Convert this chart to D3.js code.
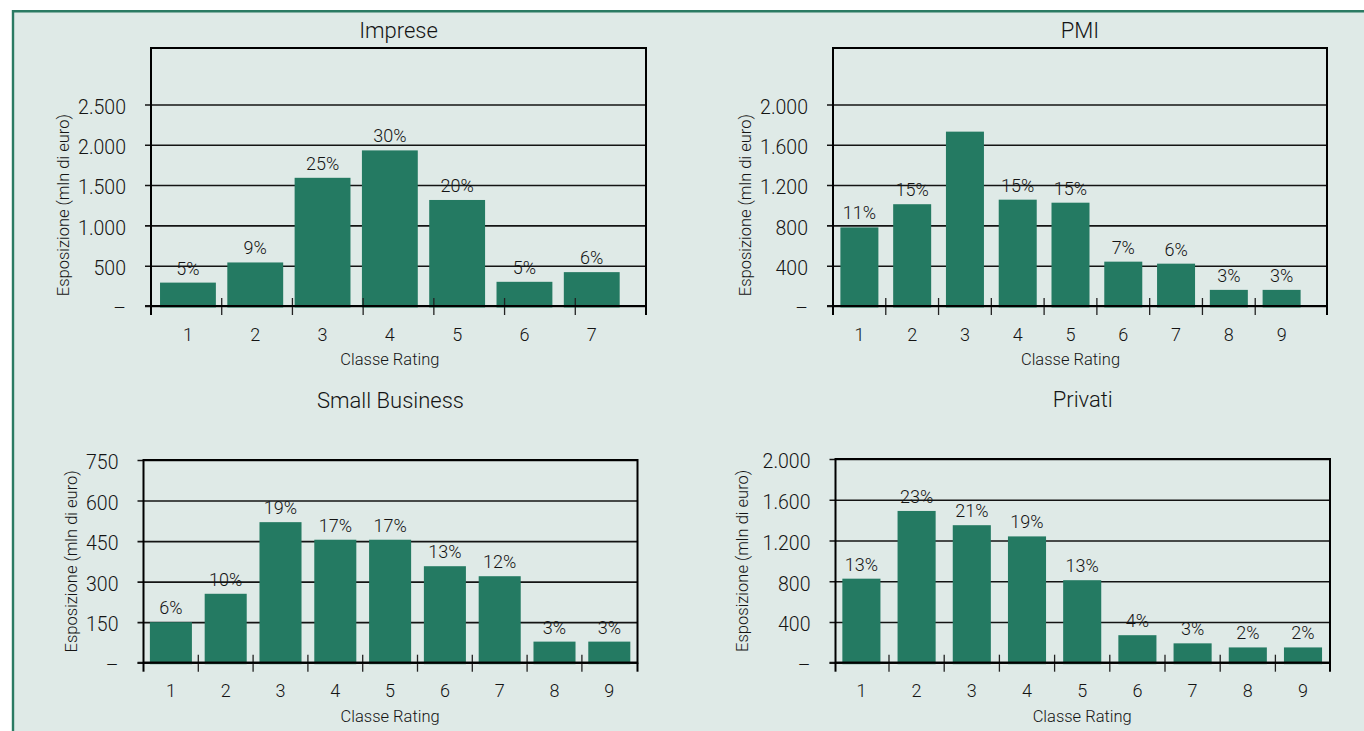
<!DOCTYPE html>
<html>
<head>
<meta charset="utf-8">
<script src="https://cdn.jsdelivr.net/npm/d3@7/dist/d3.min.js"></script>
<style>
    body { margin: 0; background: #fff; }
    svg text { font-family: Roboto, "DejaVu Sans Condensed", sans-serif; font-weight: 300; fill: #141414; }
</style>
</head>
<body>
<div id="chart"></div>
<script>
'use strict';

// classi di rating
var classi7 = ["1", "2", "3", "4", "5", "6", "7"];
var classi9 = ["1", "2", "3", "4", "5", "6", "7", "8", "9"];

// esposizione (mln di euro) e quota percentuale per classe
var impreseValori = [290, 540, 1590, 1930, 1315, 300, 420];
var impresePerc = ["5%", "9%", "25%", "30%", "20%", "5%", "6%"];
var impreseTicks = [0, 500, 1000, 1500, 2000, 2500];

var pmiValori = [780, 1010, 1730, 1055, 1025, 440, 420, 160, 160];
var pmiPerc = ["11%", "15%", "", "15%", "15%", "7%", "6%", "3%", "3%"];
var pmiTicks = [0, 400, 800, 1200, 1600, 2000];

var smallValori = [150, 255, 520, 455, 455, 357, 320, 78, 78];
var smallPerc = ["6%", "10%", "19%", "17%", "17%", "13%", "12%", "3%", "3%"];
var smallTicks = [0, 150, 300, 450, 600, 750];

var privatiValori = [825, 1490, 1350, 1240, 810, 270, 190, 150, 150];
var privatiPerc = ["13%", "23%", "21%", "19%", "13%", "4%", "3%", "2%", "2%"];
var privatiTicks = [0, 400, 800, 1200, 1600, 2000];

var width = 1364,
    height = 731,
    barColor = "#247a62",
    bgColor = "#dfeae7",
    borderColor = "#2b7b63";

var it = d3.formatLocale({decimal: ",", thousands: ".", grouping: [3], currency: ["€", ""]});
var fmt = function(d) { return d === 0 ? "\u2013" : it.format(",")(d); };

var panels = [
    {titolo: "Imprese", classi: classi7, valori: impreseValori, perc: impresePerc, ticks: impreseTicks, yMax: 3200,
        left: 151, right: 646, top: 48, bottom: 306, bars: [154.3, 625.4], pad: 0.17, tickRange: [151, 646],
        titleY: 38, yTitleX: 63},
    {titolo: "PMI", classi: classi9, valori: pmiValori, perc: pmiPerc, ticks: pmiTicks, yMax: 2560,
        left: 833, right: 1327, top: 48, bottom: 306, bars: [833, 1308], pad: 0.28, tickRange: [833, 1308],
        titleY: 38, yTitleX: 745},
    {titolo: "Small Business", classi: classi9, valori: smallValori, perc: smallPerc, ticks: smallTicks, yMax: 750,
        left: 143.5, right: 637.5, top: 460, bottom: 662.7, bars: [143.5, 636.7], pad: 0.233, tickRange: [143.5, 636.7],
        titleY: 408, yTitleX: 71.5},
    {titolo: "Privati", classi: classi9, valori: privatiValori, perc: privatiPerc, ticks: privatiTicks, yMax: 2000,
        left: 835.5, right: 1330, top: 459, bottom: 662.7, bars: [833.8, 1330.6], pad: 0.31, tickRange: [833.8, 1330.6],
        titleY: 407, yTitleX: 742}
];

var svg = d3.select("#chart").append("svg")
    .attr("width", width)
    .attr("height", height);

// sfondo e bordo verde
svg.append("rect")
    .attr("x", 12).attr("y", 10)
    .attr("width", width - 12).attr("height", height - 10)
    .attr("fill", bgColor);
svg.append("line")
    .attr("x1", 12).attr("x2", width).attr("y1", 11.3).attr("y2", 11.3)
    .attr("stroke", borderColor).attr("stroke-width", 2.6);
svg.append("line")
    .attr("x1", 13).attr("x2", 13).attr("y1", 10).attr("y2", height)
    .attr("stroke", borderColor).attr("stroke-width", 2.4);

panels.forEach(function(p) {
    var g = svg.append("g");

    var x = d3.scaleBand()
        .domain(p.classi)
        .range(p.bars)
        .paddingInner(p.pad)
        .paddingOuter(p.pad / 2);

    var y = d3.scaleLinear()
        .domain([0, p.yMax])
        .range([p.bottom, p.top]);

    //griglia + etichette asse y
    var yAxis = d3.axisLeft(y)
        .tickValues(p.ticks)
        .tickSize(-(p.right - p.left + 6))
        .tickPadding(19)
        .tickFormat(fmt);

    var ya = g.append("g")
        .attr("transform", "translate(" + (p.left - 6) + ",0)")
        .call(yAxis);
    ya.select(".domain").remove();
    ya.selectAll(".tick line").attr("stroke", "#141414").attr("stroke-width", 1.6);
    ya.selectAll(".tick text")
        .attr("dy", "0.45em")
        .style("font-size", "19.5px");

    // barre
    g.append("g")
        .selectAll("rect")
        .data(p.valori)
        .enter().append("rect")
        .attr("x", function(d, i) { return x(p.classi[i]); })
        .attr("y", function(d) { return y(d); })
        .attr("width", x.bandwidth())
        .attr("height", function(d) { return y(0) - y(d) + 1.5; })
        .attr("fill", barColor);

    // asse orizzontale sopra le barre
    g.append("line")
        .attr("x1", p.left - 6).attr("x2", p.right)
        .attr("y1", y(0)).attr("y2", y(0))
        .attr("stroke", "#141414").attr("stroke-width", 1.8);

    // tacche tra le classi
    var step = (p.tickRange[1] - p.tickRange[0]) / p.classi.length;
    g.append("g")
        .selectAll("line")
        .data(d3.range(1, p.classi.length))
        .enter().append("line")
        .attr("x1", function(k) { return p.tickRange[0] + k * step; })
        .attr("x2", function(k) { return p.tickRange[0] + k * step; })
        .attr("y1", y(0) - 8)
        .attr("y2", y(0) + 9)
        .attr("stroke", "#222")
        .attr("stroke-width", 1.3);

    // cornice
    g.append("rect")
        .attr("x", p.left).attr("y", p.top)
        .attr("width", p.right - p.left).attr("height", p.bottom - p.top)
        .attr("fill", "none")
        .attr("stroke", "#000").attr("stroke-width", 2);
    [p.left, p.right].forEach(function(xx) {
        g.append("line")
            .attr("x1", xx).attr("x2", xx)
            .attr("y1", p.bottom).attr("y2", p.bottom + 9)
            .attr("stroke", "#000").attr("stroke-width", 2);
    });

    // percentuali
    g.append("g")
        .selectAll("text")
        .data(p.valori)
        .enter().append("text")
        .attr("x", function(d, i) { return x(p.classi[i]) + x.bandwidth() / 2; })
        .attr("y", function(d) { return y(d) - 8; })
        .attr("text-anchor", "middle")
        .style("font-size", "18px")
        .text(function(d, i) { return p.perc[i]; });

    // etichette classi
    var xa = g.append("g")
        .attr("transform", "translate(0," + p.bottom + ")")
        .call(d3.axisBottom(x).tickSize(0).tickPadding(22));
    xa.select(".domain").remove();
    xa.selectAll(".tick text").style("font-size", "18px");

    g.append("text")
        .attr("x", (p.bars[0] + p.bars[1]) / 2)
        .attr("y", p.bottom + 59)
        .attr("text-anchor", "middle")
        .style("font-size", "16.5px")
        .text("Classe Rating");

    g.append("text")
        .attr("x", (p.left + p.right) / 2)
        .attr("y", p.titleY)
        .attr("text-anchor", "middle")
        .style("font-size", "22px")
        .text(p.titolo);

    var yc = (y(p.ticks[p.ticks.length - 1]) + y(0)) / 2;
    g.append("text")
        .attr("transform", "translate(" + p.yTitleX + "," + yc + ") rotate(-90)")
        .attr("dy", "0.35em")
        .attr("text-anchor", "middle")
        .style("font-size", "16.5px")
        .text("Esposizione (mln di euro)");
});
</script>
</body>
</html>
